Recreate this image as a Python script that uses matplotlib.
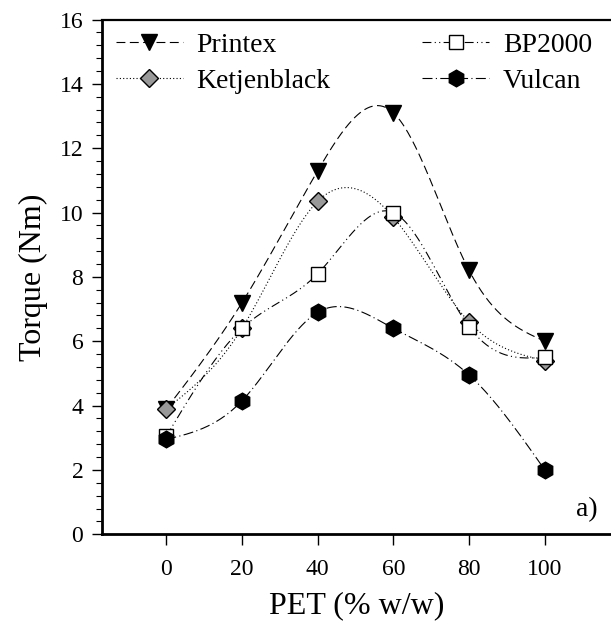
import numpy as np
import matplotlib.pyplot as plt
from matplotlib.ticker import MultipleLocator

pet = [0, 20, 40, 60, 80, 100]
printex = [3.9, 7.2, 11.3, 13.1, 8.2, 6.0]
ketjen = [3.9, 6.4, 10.35, 9.85, 6.6, 5.4]
bp2000 = [3.05, 6.4, 8.1, 10.0, 6.45, 5.5]
vulcan = [2.95, 4.15, 6.9, 6.4, 4.95, 2.0]


# spline natural cubica para el trazo suave entre puntos
def suave(x, y, n=300):
    x = np.asarray(x, float)
    y = np.asarray(y, float)
    k = len(x)
    h = np.diff(x)
    A = np.zeros((k, k))
    b = np.zeros(k)
    A[0, 0] = A[-1, -1] = 1
    for i in range(1, k - 1):
        A[i, i - 1] = h[i - 1]
        A[i, i] = 2 * (h[i - 1] + h[i])
        A[i, i + 1] = h[i]
        b[i] = 6 * ((y[i + 1] - y[i]) / h[i] - (y[i] - y[i - 1]) / h[i - 1])
    M = np.linalg.solve(A, b)
    xs = np.linspace(x[0], x[-1], n)
    j = np.clip(np.searchsorted(x, xs) - 1, 0, k - 2)
    t0 = xs - x[j]
    t1 = x[j + 1] - xs
    hj = h[j]
    ys = (M[j] * t1**3 + M[j + 1] * t0**3) / (6 * hj) \
        + (y[j] / hj - M[j] * hj / 6) * t1 + (y[j + 1] / hj - M[j + 1] * hj / 6) * t0
    return xs, ys


plt.rcParams['font.family'] = ['Liberation Serif', 'DejaVu Serif']

fig = plt.figure(figsize=(6.11, 6.30), dpi=100)
ax = fig.add_axes([0.167, 0.152, 0.833, 0.817])

series = [
    ("Printex", printex, (0, (8, 4)), 'v', 'black', 11),
    ("Ketjenblack", ketjen, (0, (1, 2)), 'D', '#999999', 9),
    ("BP2000", bp2000, (0, (8, 3, 1, 3, 1, 3)), 's', 'white', 10),
    ("Vulcan", vulcan, (0, (9, 3, 1, 3)), 'h', 'black', 12),
]

for nombre, vals, ls, mk, fc, ms in series:
    xs, ys = suave(pet, vals)
    ax.plot(xs, ys, color='black', lw=0.8, ls=ls)
    ax.plot(pet, vals, ls='none', marker=mk, ms=ms, mfc=fc, mec='black', mew=1.0)
    ax.plot([], [], color='black', lw=0.8, ls=ls, marker=mk, ms=ms,
            mfc=fc, mec='black', mew=1.0, label=nombre)

ax.set_xlim(-17, 117.5)
ax.set_ylim(0, 16)
ax.set_xticks(pet)
ax.yaxis.set_major_locator(MultipleLocator(2))
ax.yaxis.set_minor_locator(MultipleLocator(0.4))

for s in ['left', 'bottom']:
    ax.spines[s].set_linewidth(2.0)
ax.spines['top'].set_linewidth(1.6)
ax.spines['right'].set_visible(False)

ax.tick_params(axis='both', direction='out', labelsize=17, width=1.0)
ax.tick_params(axis='y', which='major', length=7.5, pad=6)
ax.tick_params(axis='y', which='minor', length=4, width=0.8)
ax.tick_params(axis='x', which='major', length=8, pad=10)

ax.set_xlabel("PET (% w/w)", fontsize=23, labelpad=8)
ax.set_ylabel("Torque (Nm)", fontsize=23, labelpad=8)

ax.text(0.974, 0.023, "a)", transform=ax.transAxes, fontsize=20, ha='right', va='bottom')

leg = fig.legend(loc='upper left', bbox_to_anchor=(0.19, 0.948), ncol=2, frameon=False,
                 fontsize=20, handlelength=2.4, handletextpad=0.5, columnspacing=3.3,
                 borderpad=0, labelspacing=0.38, borderaxespad=0)

fig.savefig("out.png", dpi=100)
